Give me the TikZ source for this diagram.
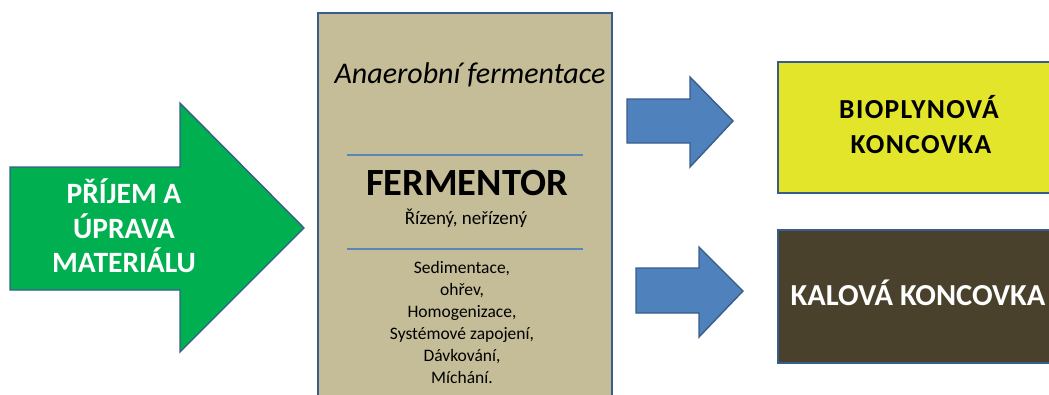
\documentclass[tikz,border=0pt]{standalone}
\usepackage{fontspec}
\setmainfont{Carlito}
\newfontfamily\spacedfont[LetterSpace=5]{Carlito}
\begin{document}
\begin{tikzpicture}[x=1pt,y=-1pt,
  outl/.style={draw=brdblue,line width=1.4pt,line join=miter},
  ln/.style={anchor=base,inner sep=0pt}]
\definecolor{brdblue}{HTML}{385D8A}
\definecolor{arrgreen}{HTML}{00B050}
\definecolor{arrblue}{HTML}{4F81BD}
\definecolor{tan}{HTML}{C4BD97}
\definecolor{ylw}{HTML}{E2E529}
\definecolor{brwn}{HTML}{4A412C}
\definecolor{sepblue}{HTML}{5B86B8}
\useasboundingbox (0,0) rectangle (1049,394);
% green arrow
\fill[arrgreen,outl] (10,167) -- (180,167) -- (180,103) -- (304,228) -- (180,352) -- (180,290) -- (10,290) -- cycle;
\tikzset{gtxt/.style={ln,text=white,font=\bfseries\fontsize{29.5}{34}\selectfont}}
\node[gtxt] (in1) at (124,203) {PŘÍJEM A};
\node[gtxt] (in2) at (124,238) {ÚPRAVA};
\node[gtxt] (in3) at (124,272) {MATERIÁLU};
% fermentor box
\fill[tan,outl] (318,13) rectangle (612,400);
\node[ln,font=\itshape\fontsize{30}{34}\selectfont] (anaer) at (470,83) {Anaerobní fermentace};
\coordinate (s1a) at (347,155); \coordinate (s1b) at (583,155);
\draw[sepblue,line width=1.2pt] (s1a) -- (s1b);
\node[ln,font=\bfseries\fontsize{38.5}{40}\selectfont] (ferm) at (467,195) {FERMENTOR};
\node[ln,font=\fontsize{19}{22}\selectfont] (rizeny) at (466,224) {Řízený, neřízený};
\coordinate (s2a) at (347,249); \coordinate (s2b) at (583,249);
\draw[sepblue,line width=1.2pt] (s2a) -- (s2b);
\tikzset{ltxt/.style={ln,font=\fontsize{17.5}{22}\selectfont}}
\node[ltxt] (l1) at (462,273) {Sedimentace,};
\node[ltxt] (l2) at (462,295) {ohřev,};
\node[ltxt] (l3) at (462,317) {Homogenizace,};
\node[ltxt] (l4) at (462,339) {Systémové zapojení,};
\node[ltxt] (l5) at (462,361) {Dávkování,};
\node[ltxt] (l6) at (462,383) {Míchání.};
% blue arrows
\fill[arrblue,outl] (627,99) -- (690,99) -- (690,77) -- (733,121) -- (690,167) -- (690,143) -- (627,143) -- cycle;
\fill[arrblue,outl] (636,268) -- (699,268) -- (699,247) -- (743,291) -- (699,337) -- (699,313) -- (636,313) -- cycle;
% output boxes
\fill[ylw,outl] (778,62) rectangle (1060,193);
\tikzset{btxt/.style={ln,font=\spacedfont\bfseries\fontsize{27.5}{34}\selectfont}}
\node[btxt] (bio1) at (919,118) {BIOPLYNOVÁ};
\node[btxt] (bio2) at (921,153) {KONCOVKA};
\fill[brwn,outl] (778,230) rectangle (1060,363);
\node[ln,text=white,font=\bfseries\fontsize{30.5}{34}\selectfont] (kal) at (918,305) {KALOVÁ KONCOVKA};
\end{tikzpicture}
\end{document}
